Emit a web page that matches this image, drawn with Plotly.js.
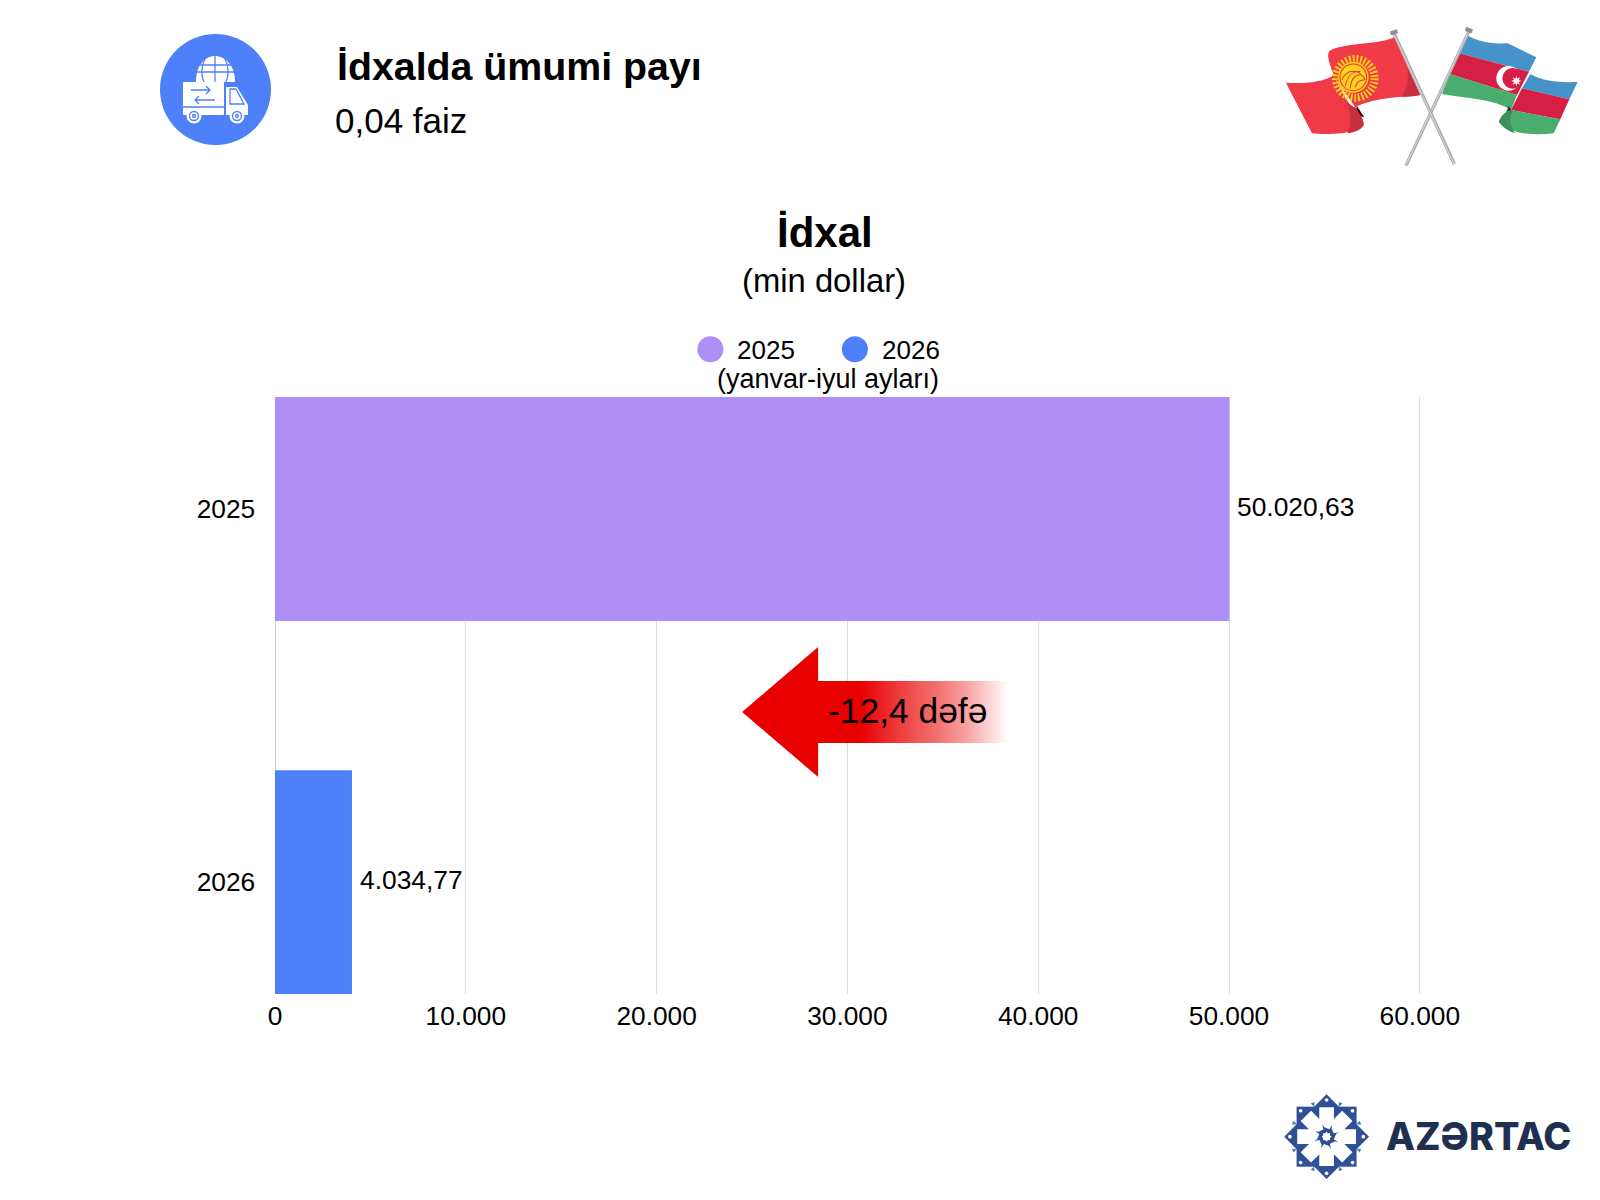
<!DOCTYPE html>
<html>
<head>
<meta charset="utf-8">
<script src="https://cdn.plot.ly/plotly-3.0.1.min.js"></script>
<style>html,body{margin:0;padding:0;background:#fff}#chart{width:1600px;height:1200px}</style>
</head>
<body>
<div id="chart"></div>
<script>
const categories = ['2025', '2026'];
const values = [50020.63, 4034.77];
const valueLabels = ['50.020,63', '4.034,77'];
const barColors = ['#ae8ff5', '#4d80f9'];
const xTicks = [0, 10000, 20000, 30000, 40000, 50000, 60000];

const FONT = '"Liberation Sans", Arial, sans-serif';
const L = 275, T = 397, W = 1145.7, H = 597;
const px = x => (x - L) / W;
const py = y => (T + H - y) / H;

function svgUri(w, h, body) {
  return 'data:image/svg+xml;charset=utf-8,' + encodeURIComponent(
    `<svg xmlns="http://www.w3.org/2000/svg" width="${w}" height="${h}" viewBox="0 0 ${w} ${h}">${body}</svg>`);
}
function img(source, x, y, w, h) {
  return {source, xref: 'paper', yref: 'paper', x: px(x), y: py(y), sizex: w / W, sizey: h / H,
    xanchor: 'left', yanchor: 'top', sizing: 'stretch', layer: 'above'};
}
function starPts(cx, cy, R, r, n) {
  const p = [];
  for (let i = 0; i < 2 * n; i++) {
    const a = Math.PI * i / n - Math.PI / 2, q = i % 2 ? r : R;
    p.push((cx + q * Math.cos(a)).toFixed(1) + ',' + (cy + q * Math.sin(a)).toFixed(1));
  }
  return p.join(' ');
}

const arrowSvg = svgUri(265, 134, `
<defs><linearGradient id="g" gradientUnits="userSpaceOnUse" x1="0" x2="265" y1="0" y2="0">
<stop offset="0.45" stop-color="#e80000"/><stop offset="0.72" stop-color="#ee3a3a" stop-opacity="0.75"/><stop offset="1" stop-color="#e80000" stop-opacity="0"/>
</linearGradient></defs>
<polygon fill="url(#g)" points="0,66 76,1 76,35 265,35 265,97 76,97 76,131"/>`);

const truckSvg = svgUri(111, 111, `
<circle cx="55.5" cy="55.5" r="55.5" fill="#4d80f9"/>
<g fill="#fff">
<path d="M36,48 C36,30 46,22 55,22 C64,22 75,30 75,48 Z"/>
<rect x="23" y="48" width="41" height="33" rx="1"/>
<path d="M66,53 L77,53 L88,71 L88,81 L66,81 Z"/>
<circle cx="34" cy="82" r="7.5"/><circle cx="77" cy="82" r="7.5"/>
</g>
<g fill="none" stroke="#4d80f9" stroke-width="1.3">
<path d="M55,22 V48 M45,25 C41,32 41,42 44,48 M65,25 C69,32 69,42 66,48 M36,38 H75 M38,31 H72"/>
<path d="M31,56 H50 M46,52 L50,56 L46,60 M55,66 H35 M39,62 L35,66 L39,70"/>
<path d="M23,73 H64 M70,55 L76,55 L84,70 L70,70 Z"/>
<circle cx="34" cy="82" r="4.5"/><circle cx="77" cy="82" r="4.5"/>
<circle cx="34" cy="82" r="1.5"/><circle cx="77" cy="82" r="1.5"/>
</g>`);

const flagsSvg = svgUri(1020, 570, `
<path fill="#f03a48" d="M403,112 C350,135 255,128 208,152 C196,165 212,205 228,240 L285,322 C340,292 420,292 480,285 Z"/>
<path fill="#c92f40" d="M442,205 L480,285 C460,290 440,290 425,290 C440,265 445,235 442,205 Z"/>
<path fill="#2a0a10" d="M283,345 L290,318 L312,352 Z"/>
<path fill="#f03a48" d="M77,248 C120,252 190,248 222,224 C235,258 262,320 285,322 C296,340 312,360 310,376 C290,402 205,405 155,400 Z"/>
<path fill="#c92f40" d="M232,245 C245,280 265,320 285,322 C296,340 312,360 310,376 C300,392 280,398 262,400 C285,350 255,290 232,245 Z"/>
<circle cx="285" cy="235" r="58" fill="none" stroke="#fdd21a" stroke-width="24" stroke-dasharray="5.5 5.5"/>
<circle cx="279" cy="232" r="46" fill="#fdd21a"/>
<circle cx="279" cy="232" r="40" fill="none" stroke="#e8313f" stroke-width="3"/>
<g fill="none" stroke="#e8313f" stroke-width="3"><path d="M245,240 C260,205 295,205 315,240 M255,258 C262,225 280,212 300,215 M270,265 C272,235 285,222 305,225 M285,262 C290,245 298,238 312,240"/></g>
<path fill="#4593c9" d="M624,108 C660,128 700,132 742,130 L828,172 L806,215 L597,160 Z"/>
<path fill="#d61f45" d="M597,160 L806,215 L770,285 L568,222 Z"/>
<path fill="#48ad6d" d="M568,222 L770,285 L752,330 C700,296 620,296 545,282 Z"/>
<path fill="#4593c9" d="M810,222 C850,245 900,248 952,246 L927,298 L785,265 Z"/>
<path fill="#d61f45" d="M785,265 L927,298 L900,358 L752,330 Z"/>
<path fill="#0e3a22" d="M733,350 L745,318 L762,345 Z"/>
<path fill="#48ad6d" d="M752,330 L900,358 L880,400 C820,407 745,402 716,366 C720,350 735,335 752,330 Z"/>
<path fill="#3f8f5e" d="M752,330 L758,333 C745,350 750,385 765,400 C745,395 725,380 716,366 C720,350 735,335 752,330 Z"/>
<circle cx="745" cy="235" r="37" fill="#fff"/><circle cx="757" cy="235" r="31" fill="#d61f45"/>
<polygon fill="#fff" points="${starPts(768, 243, 16, 7, 8)}"/>
<line x1="627" y1="92" x2="437" y2="497" stroke="#a9a9a9" stroke-width="10"/>
<line x1="626" y1="92" x2="436" y2="497" stroke="#d9d9d9" stroke-width="3"/>
<line x1="400" y1="98" x2="582" y2="492" stroke="#a9a9a9" stroke-width="10"/>
<line x1="399" y1="98" x2="581" y2="492" stroke="#d9d9d9" stroke-width="3"/>
<rect x="390" y="91" width="22" height="13" rx="3" fill="#8f8f8f" transform="rotate(-20 400 97)"/>
<rect x="615" y="84" width="22" height="13" rx="3" fill="#8f8f8f" transform="rotate(20 626 90)"/>`);

let petals = '', dots = '';
for (let i = 0; i < 8; i++) {
  petals += `<polygon fill="#fff" transform="rotate(${i * 45} 199 170)" points="177,82 221,82 221,128 207,148 192,142 177,120"/>
<polygon fill="#5577b8" transform="rotate(${i * 45 + 22.5} 199 170)" points="193,60 205,60 199,74"/>`;
}
for (let i = 0; i < 8; i++) {
  const a = Math.PI * i / 4;
  dots += `<circle cx="${(199 + 110 * Math.cos(a)).toFixed(1)}" cy="${(170 + 110 * Math.sin(a)).toFixed(1)}" r="5.5" fill="#fff"/>`;
}
const logoSvg = svgUri(340, 360, `
<g fill="#2f5097">
<rect x="109" y="80" width="180" height="180"/>
<rect x="109" y="80" width="180" height="180" transform="rotate(45 199 170)"/>
</g>
${petals}${dots}
<circle cx="199" cy="170" r="20" fill="#2f5097"/>
<polygon fill="#fff" points="${starPts(199, 170, 15, 11, 8)}"/>`);

const traces = [{
  type: 'bar', orientation: 'h', x: values, y: categories,
  marker: {color: barColors, line: {width: 0}}, hoverinfo: 'skip'
}];

function note(text, x, y, size, anchor, extra) {
  return Object.assign({text, xref: 'paper', yref: 'paper', x: px(x), y: py(y), xanchor: anchor || 'left',
    yanchor: 'middle', showarrow: false, borderpad: 0,
    font: {family: FONT, size, color: '#000'}}, extra || {});
}
const valueNotes = categories.map((c, i) => ({
  text: valueLabels[i], xref: 'x', yref: 'y', x: values[i], y: i, xanchor: 'left', yanchor: 'middle',
  xshift: 7, yshift: 2, showarrow: false, borderpad: 0,
  font: {family: FONT, size: 26.4, color: '#000'}
}));

const layout = {
  width: 1600, height: 1200, autosize: false,
  paper_bgcolor: '#fff', plot_bgcolor: '#fff',
  margin: {l: L, t: T, r: 1600 - L - W, b: 1200 - T - H, pad: 0},
  separators: ',.', showlegend: false, bargap: 0.4,
  font: {family: FONT, size: 26, color: '#000'},
  xaxis: {range: [0, 60062], tickvals: xTicks, tickformat: ',', showgrid: true, gridcolor: '#dddddd', gridwidth: 1,
    zeroline: true, zerolinecolor: '#c8c8c8', zerolinewidth: 1, showline: false,
    ticks: '', ticklabelstandoff: 4, tickfont: {family: FONT, size: 26.3, color: '#000'}},
  yaxis: {type: 'category', categoryorder: 'array', categoryarray: categories, range: [1.3, -0.3], autorange: false,
    showgrid: false, zeroline: false, showline: false,
    ticks: 'outside', ticklen: 13.5, tickcolor: 'rgba(0,0,0,0)', tickfont: {family: FONT, size: 26.3, color: '#000'}},
  images: [
    img(truckSvg, 160, 34, 111, 111),
    img(flagsSvg, 1260, 0, 340, 190),
    img(logoSvg, 1260, 1080, 113.3, 120),
    img(arrowSvg, 742, 646, 265, 134)
  ],
  shapes: [
    {type: 'circle', xref: 'paper', yref: 'paper', x0: px(697.3), x1: px(723.3), y0: py(336.3), y1: py(362.3), fillcolor: barColors[0], line: {width: 0}},
    {type: 'circle', xref: 'paper', yref: 'paper', x0: px(841.7), x1: px(867.7), y0: py(336.3), y1: py(362.3), fillcolor: barColors[1], line: {width: 0}}
  ],
  annotations: [
    note('<b>İdxalda ümumi payı</b>', 336, 66, 39.3),
    note('0,04 faiz', 334, 120, 35),
    note('<b>İdxal</b>', 824.5, 232, 42, 'center'),
    note('(min dollar)', 824, 280.2, 32.8, 'center'),
    note('2025', 735.5, 350, 26),
    note('2026', 880.5, 350, 26),
    note('(yanvar-iyul ayları)', 716, 379, 27),
    note('-12,4 dəfə', 907, 711, 35.4, 'center'),
    note('AZƏRTAC', 1385, 1136, 37.7, 'left', {font: {family: 'Inter, sans-serif', size: 37.7, color: '#1f2f4f', weight: 800}})
  ].concat(valueNotes)
};

Plotly.newPlot('chart', traces, layout, {displayModeBar: false, staticPlot: true});
</script>
</body>
</html>
